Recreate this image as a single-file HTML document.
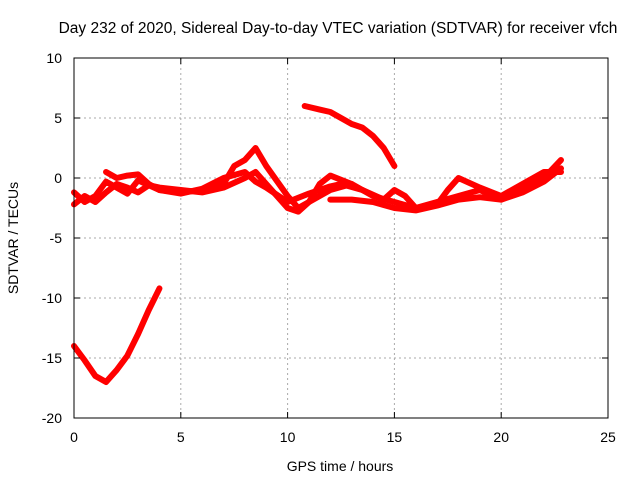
<!DOCTYPE html>
<html><head><meta charset="utf-8"><style>
body{margin:0;background:#fff}
text{font-family:"Liberation Sans",sans-serif;fill:#000}
</style></head><body>
<svg id="chart" width="640" height="480">
<text x="338" y="33" font-size="15.5" text-anchor="middle">Day 232 of 2020, Sidereal Day-to-day VTEC variation (SDTVAR) for receiver vfch</text>
<text x="340" y="471" font-size="14" text-anchor="middle">GPS time / hours</text>
<text transform="translate(18,238) rotate(-90)" font-size="14" text-anchor="middle">SDTVAR / TECUs</text>
<g id="grid"></g><g id="series"></g>
<rect x="74" y="58" width="534" height="360" fill="none" stroke="#000" stroke-width="1"/>
<g id="ticks"></g>
</svg>
<script>
const xTicks=[0,5,10,15,20,25];
const yTicks=[10,5,0,-5,-10,-15,-20];
const trackA=[[0,-2.2],[0.5,-1.5],[1,-2],[1.5,-1.2],[2,-0.5],[2.5,-0.8],[3,-1.2],[3.5,-0.6],[4,-0.8],[5,-1],[6,-1.2],[7,-0.8],[8,0],[8.5,0.5],[9,-0.5],[9.5,-1.5],[10,-2.5],[10.5,-2.8],[11,-2],[12,-1],[13,-0.5]];
const trackB=[[1.5,0.5],[2,0],[2.5,0.2],[3,0.3],[3.5,-0.5],[4,-1],[5,-1.2],[6,-1],[7,-0.5],[7.5,1],[8,1.5],[8.5,2.5],[9,1],[10,-1.5],[10.5,-2.5],[11,-2],[11.5,-0.5],[12,0.2],[13,-0.5],[14,-1.5],[15,-2],[16,-2.5],[17,-2],[18,-1.5],[19,-1],[20,-1.8],[21,-1],[22,0],[22.8,1.5]];
const trackC=[[0,-1.2],[0.5,-2],[1,-1.5],[1.5,-0.3],[2,-0.8],[2.5,-1.3],[3,-0.2],[4,-1],[5,-1.3],[6,-0.9],[7,0],[8,0.5],[8.5,-0.3],[9,-0.8],[10,-2],[11,-1.3],[12,-0.7],[12.5,-0.5],[13.5,-1],[14.5,-1.8],[15,-1],[15.5,-1.5],[16,-2.5],[17,-2.2],[17.5,-1],[18,0],[19,-0.8],[20,-1.5],[21,-0.5],[22,0.5],[22.8,0.5]];
const trackE=[[12,-1.8],[13,-1.8],[14,-2],[15,-2.5],[16,-2.7],[17,-2.3],[18,-1.8],[19,-1.6],[20,-1.8],[21,-1.2],[22,-0.3],[22.8,0.8]];
const trackTop=[[10.8,6],[11.5,5.7],[12,5.5],[13,4.5],[13.5,4.2],[14,3.5],[14.5,2.5],[15,1]];
const trackLow=[[0,-14],[0.5,-15.2],[1,-16.5],[1.5,-17],[2,-16],[2.5,-14.8],[3,-13],[3.5,-11],[4,-9.2]];
const tracks=[trackA,trackB,trackC,trackE,trackTop,trackLow];
const X=v=>74+v*534/25, Y=v=>58+(10-v)*12;
const ns="http://www.w3.org/2000/svg";
const grid=document.getElementById('grid'),ticks=document.getElementById('ticks'),ser=document.getElementById('series');
function mk(tag,a,p){const e=document.createElementNS(ns,tag);for(const k in a)e.setAttribute(k,a[k]);p.appendChild(e);return e;}
xTicks.forEach(t=>{
 if(t>0&&t<25){const g=mk('line',{x1:X(t),x2:X(t),y1:58,y2:418,stroke:'#aaa','stroke-dasharray':'2,3'},grid);
 
 }
 mk('line',{x1:X(t),x2:X(t),y1:418,y2:412,stroke:'#000'},ticks);
 mk('line',{x1:X(t),x2:X(t),y1:58,y2:64,stroke:'#000'},ticks);
 const l=mk('text',{x:X(t),y:442,'font-size':14,'text-anchor':'middle'},ticks);l.textContent=t;
 
 
});
yTicks.forEach(t=>{
 if(t>-20&&t<10){const g=mk('line',{x1:74,x2:608,y1:Y(t),y2:Y(t),stroke:'#aaa','stroke-dasharray':'2,3'},grid);
 
 }
 mk('line',{x1:74,x2:80,y1:Y(t),y2:Y(t),stroke:'#000'},ticks);
 mk('line',{x1:602,x2:608,y1:Y(t),y2:Y(t),stroke:'#000'},ticks);
 const l=mk('text',{x:62,y:Y(t)+5,'font-size':14,'text-anchor':'end'},ticks);l.textContent=t;
 
 
});
tracks.forEach(tr=>{
 const p=mk('polyline',{points:tr.map(d=>X(d[0])+','+Y(d[1])).join(' '),fill:'none',stroke:'#f00','stroke-width':6,'stroke-linejoin':'round','stroke-linecap':'round'},ser);
 
 
});
</script>
</body></html>
